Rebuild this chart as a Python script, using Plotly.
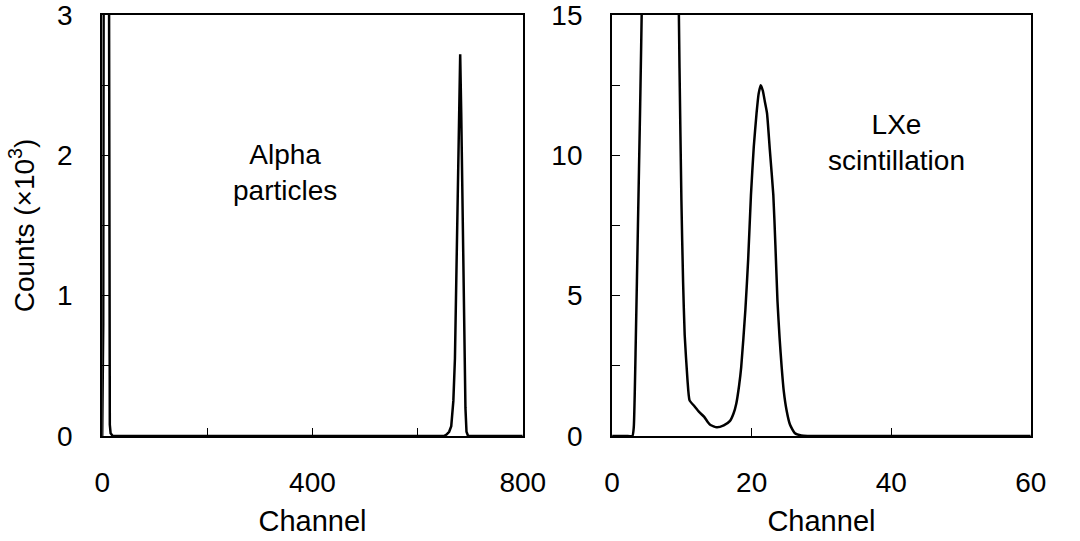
import plotly.graph_objects as go

# ---- data ----
alpha_channel = [0, 2, 3, 4, 6, 9, 12, 13, 13.5, 14, 14.5, 16, 18, 20, 100, 300, 500, 640,
                 650, 655, 660, 664, 668, 671, 674, 677, 679, 681, 683, 685, 687, 689, 691,
                 693, 696, 720, 800]
alpha_counts = [0, 0.8, 4.0, 8.0, 11.0, 11.0, 8.0, 3.2, 1.5, 0.4, 0.08, 0.02, 0.005, 0, 0, 0, 0, 0,
                0.0, 0.01, 0.03, 0.07, 0.25, 0.55, 1.2, 1.8, 2.3, 2.72, 2.3, 1.7, 1.1, 0.55, 0.2,
                0.03, 0, 0, 0]

lxe_channel = [0, 2, 2.9, 3.1, 3.4, 3.7, 4.0, 4.3, 5, 6, 7, 8, 9, 9.5, 9.66, 9.93, 10.17, 10.4,
               10.8, 11.1, 11.8, 12.5, 13.2, 13.7, 14.1, 15.0, 16.0, 16.9, 17.4, 17.8, 18.2,
               18.5, 19.1, 19.5, 19.9, 20.3, 20.7, 21.0, 21.3, 21.6, 21.9, 22.2, 22.6, 23.1,
               23.4, 23.7, 24.0, 24.3, 24.6, 25.0, 25.5, 26.2, 27.1, 28, 40, 60]
lxe_counts = [0, 0, 0, 0.3, 3.5, 7.5, 11.5, 16, 30, 45, 50, 45, 30, 16.5, 13.1, 8.4, 5.5, 3.6,
              2.0, 1.27, 1.06, 0.85, 0.68, 0.5, 0.39, 0.31, 0.38, 0.54, 0.8, 1.16, 1.8,
              2.45, 4.5, 6.3, 8.6, 10.3, 11.5, 12.2, 12.5, 12.3, 11.9, 11.5, 10.2, 8.6,
              6.8, 4.8, 3.5, 2.45, 1.6, 0.92, 0.4, 0.1, 0.02, 0, 0, 0]

left_xticks = [0, 400, 800]
left_xlabels = ["0", "400", "800"]
left_xminor = [200, 600]
left_yticks = [0, 1, 2, 3]
left_ylabels = ["0", "1", "2", "3"]
left_yminor = [0.5, 1.5, 2.5]
right_xticks = [0, 20, 40, 60]
right_xlabels = ["0", "20", "40", "60"]
right_yticks = [0, 5, 10, 15]
right_ylabels = ["0", "5", "10", "15"]
right_yminor = [2.5, 7.5, 12.5]

FONT = "Liberation Sans, Arial, sans-serif"
FS = 28

fig = go.Figure()
fig.add_trace(go.Scatter(x=alpha_channel, y=alpha_counts, mode="lines",
                         line=dict(color="black", width=2.5), xaxis="x", yaxis="y",
                         showlegend=False))
fig.add_trace(go.Scatter(x=lxe_channel, y=lxe_counts, mode="lines",
                         line=dict(color="black", width=2.5, shape="spline", smoothing=0.5),
                         xaxis="x2", yaxis="y2", showlegend=False))

axis_common = dict(showgrid=False, zeroline=False, showline=True, mirror=True,
                   linecolor="black", linewidth=2, ticks="inside", ticklen=8,
                   tickwidth=1.2, tickcolor="black", ticklabeloverflow="allow",
                   tickfont=dict(family=FONT, size=FS, color="black"))


def minor(vals):
    return dict(tickmode="array", tickvals=vals, ticks="inside", ticklen=8,
                tickwidth=1.2, tickcolor="black", showgrid=False)


fig.update_layout(
    width=1080, height=541,
    margin=dict(l=0, r=0, t=12, b=105),
    paper_bgcolor="white", plot_bgcolor="white",
    font=dict(family=FONT, size=FS, color="black"),
    xaxis=dict(domain=[0.0898, 0.4907], range=[0, 800], tickmode="array",
               tickvals=left_xticks, ticktext=left_xlabels, ticklabelstandoff=20,
               minor=minor(left_xminor),
               title=dict(text="Channel", font=dict(family=FONT, size=29), standoff=14),
               anchor="y", **axis_common),
    yaxis=dict(domain=[0, 1], range=[0, 3], tickmode="array",
               tickvals=left_yticks, ticklabelstandoff=22, ticktext=left_ylabels,
               minor=minor(left_yminor),
               title=dict(text="Counts (×10<sup>3</sup>)", font=dict(family=FONT, size=FS),
                          standoff=14),
               anchor="x", **axis_common),
    xaxis2=dict(domain=[0.5759, 0.975], range=[0, 60], tickmode="array",
                tickvals=right_xticks, ticktext=right_xlabels, ticklabelstandoff=20,
                title=dict(text="Channel", font=dict(family=FONT, size=29), standoff=14),
                anchor="y2", **axis_common),
    yaxis2=dict(domain=[0, 1], range=[0, 15], tickmode="array",
                tickvals=right_yticks, ticktext=right_ylabels, ticklabelstandoff=22,
                minor=minor(right_yminor),
                anchor="x2", **axis_common),
    annotations=[
        dict(x=347, y=1.88, xref="x", yref="y", text="Alpha<br>particles",
             showarrow=False, font=dict(family=FONT, size=FS, color="black")),
        dict(x=40.8, y=10.44, xref="x2", yref="y2", text="LXe<br>scintillation",
             showarrow=False, font=dict(family=FONT, size=FS, color="black")),
    ],
)

fig.write_html("out.html")
